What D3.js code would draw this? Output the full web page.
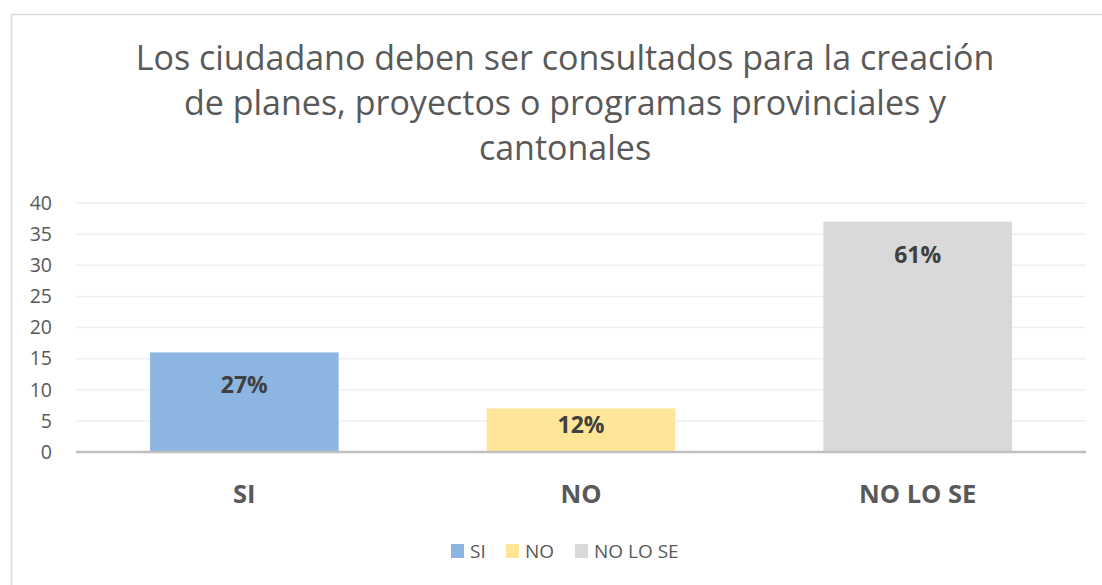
<!DOCTYPE html>
<html>
<head>
<meta charset="utf-8">
<script src="https://cdn.jsdelivr.net/npm/d3@7"></script>
<style>
  html, body { margin: 0; padding: 0; background: #fff; }
  text { font-family: "Open Sans", "Noto Sans", sans-serif; }
</style>
</head>
<body>
<div id="chart"></div>
<script>
// data
const categories = ['SI', 'NO', 'NO LO SE'];
const counts = [16, 7, 37];
const percentLabels = ['27%', '12%', '61%'];
const colors = ['#8cb6e1', '#ffe597', '#d9d9d9'];
const yTicks = [0, 5, 10, 15, 20, 25, 30, 35, 40];
const titleLines = [
  'Los ciudadano deben ser consultados para la creación',
  'de planes, proyectos o programas provinciales y',
  'cantonales'
];

let width = 1102, height = 585;
let margin = { top: 203, right: 16, bottom: 133, left: 76 };

let svg = d3.select('#chart')
  .append('svg')
  .attr('width', width)
  .attr('height', height);

// chart frame (only top/left visible)
svg.append('rect')
  .attr('x', 11.5).attr('y', 14.5)
  .attr('width', 1200).attr('height', 700)
  .attr('fill', 'none')
  .attr('stroke', '#d9d9d9')
  .attr('stroke-width', 1.5);

// title
svg.append('g')
  .selectAll('text')
  .data(titleLines)
  .enter().append('text')
  .attr('x', 565)
  .attr('y', (d, i) => 70 + i * 45)
  .attr('text-anchor', 'middle')
  .attr('fill', '#595959')
  .style('font-size', '34px')
  .text(d => d);

let plotW = width - margin.left - margin.right;
let plotH = height - margin.top - margin.bottom;

let x = d3.scaleBand()
  .domain(categories)
  .range([margin.left, margin.left + plotW])
  .paddingInner(0.44)
  .paddingOuter(0.22);

let y = d3.scaleLinear()
  .domain([0, 40])
  .range([margin.top + plotH, margin.top]);

// gridlines
svg.append('g')
  .selectAll('line')
  .data(yTicks.slice(1))
  .enter().append('line')
  .attr('x1', margin.left).attr('x2', margin.left + plotW)
  .attr('y1', d => y(d)).attr('y2', d => y(d))
  .attr('stroke', '#efefef')
  .attr('stroke-width', 1.5);

// y axis labels
let yAxis = d3.axisLeft(y).tickValues(yTicks).tickSize(0).tickPadding(24);
let yg = svg.append('g')
  .attr('transform', 'translate(' + margin.left + ',0)')
  .call(yAxis);
yg.select('.domain').remove();
yg.selectAll('text')
  .attr('fill', '#595959')
  .style('font-size', '19.5px')
  .style('font-family', '"Open Sans", sans-serif');

// bars
svg.append('g')
  .selectAll('rect')
  .data(categories)
  .enter().append('rect')
  .attr('x', d => x(d))
  .attr('y', (d, i) => y(counts[i]))
  .attr('width', x.bandwidth())
  .attr('height', (d, i) => y(0) - y(counts[i]))
  .attr('fill', (d, i) => colors[i]);

// baseline
svg.append('line')
  .attr('x1', margin.left).attr('x2', margin.left + plotW)
  .attr('y1', y(0)).attr('y2', y(0))
  .attr('stroke', '#bfbfbf')
  .attr('stroke-width', 2.5);

// data labels
svg.append('g')
  .selectAll('text')
  .data(categories)
  .enter().append('text')
  .attr('x', d => x(d) + x.bandwidth() / 2)
  .attr('y', (d, i) => {
    let top = y(counts[i]);
    let h = y(0) - top;
    return h < 60 ? top + 25 : top + 41;
  })
  .attr('text-anchor', 'middle')
  .attr('fill', '#404040')
  .style('font-size', '23px')
  .style('font-weight', 'bold')
  .text((d, i) => percentLabels[i]);

// category labels
svg.append('g')
  .selectAll('text')
  .data(categories)
  .enter().append('text')
  .attr('x', d => x(d) + x.bandwidth() / 2)
  .attr('y', 503)
  .attr('text-anchor', 'middle')
  .attr('fill', '#595959')
  .style('font-size', '25.5px')
  .style('font-weight', 'bold')
  .text(d => d);

// legend
let legendX = [451, 506, 575];
let legend = svg.append('g')
  .selectAll('g')
  .data(categories)
  .enter().append('g')
  .attr('transform', (d, i) => 'translate(' + legendX[i] + ',544)');
legend.append('rect')
  .attr('width', 13).attr('height', 14)
  .attr('fill', (d, i) => colors[i]);
legend.append('text')
  .attr('x', 19).attr('y', 14)
  .attr('fill', '#595959')
  .style('font-size', '19px')
  .text(d => d);
</script>
</body>
</html>
